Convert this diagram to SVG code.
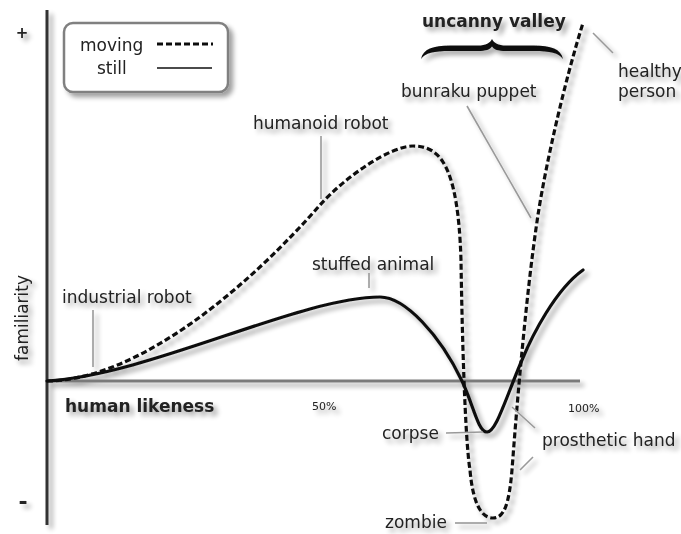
<svg xmlns="http://www.w3.org/2000/svg" width="681" height="534" viewBox="0 0 681 534">
  <defs>
    <filter id="sh" x="-5%" y="-5%" width="115%" height="115%">
      <feGaussianBlur in="SourceAlpha" stdDeviation="2.4"/>
      <feOffset dx="4" dy="4" result="b"/>
      <feComponentTransfer><feFuncA type="linear" slope="0.38"/></feComponentTransfer>
      <feMerge><feMergeNode/><feMergeNode in="SourceGraphic"/></feMerge>
    </filter>
  </defs>
  <style>
    text { font-family: "DejaVu Sans", "Liberation Sans", sans-serif; fill: #222; font-size: 17px; }
    .b { font-weight: bold; }
    .pct { font-size: 11px; }
    .lead { stroke: #999; stroke-width: 1.6; fill: none; }
    .moving { stroke: #111; stroke-width: 3.2; fill: none; stroke-dasharray: 6 3; }
    .still { stroke: #111; stroke-width: 3.2; fill: none; stroke-linecap: round; }
  </style>
  <rect width="681" height="534" fill="#fff"/>
  <g filter="url(#sh)">
    <g id="axes">
      <line x1="47" y1="381" x2="580" y2="381" stroke="#7a7a7a" stroke-width="3"/>
      <line x1="47" y1="10" x2="47" y2="525" stroke="#333" stroke-width="3"/>
      <text x="22" y="38" class="b" text-anchor="middle" style="font-size:15px">+</text>
      <text x="23" y="509" class="b" text-anchor="middle" style="font-size:22px">-</text>
      <text transform="translate(28,318) rotate(-90)" text-anchor="middle">familiarity</text>
      <text x="65" y="412" class="b">human likeness</text>
      <text x="312" y="410" class="pct">50%</text>
      <text x="568" y="412" class="pct">100%</text>
    </g>
    <g id="legend">
      <rect x="64" y="23" width="164" height="69" rx="9" fill="#fff" stroke="#808080" stroke-width="2.5"/>
      <text x="80" y="51">moving</text>
      <text x="97" y="74">still</text>
      <line x1="157" y1="44" x2="213" y2="44" class="moving" stroke-width="3"/>
      <line x1="157" y1="68" x2="212" y2="68" stroke="#111" stroke-width="1.6"/>
    </g>
    <g id="connectors">
      <path id="moving-curve" class="moving" d="M47,381 C140,380 250,285 320,205 C345,177 390,146 413,146 C440,146 458,165 461,260 C462,330 465,440 470,470 C473,505 482,518 493,518 C504,518 509,505 512,470 C515,430 525,300 538,215 C546,163 565,80 583,23"/>
      <path id="still-curve" class="still" d="M47,381 C150,375 300,297 380,297 C405,297 440,335 462,381 C473,404 478,432 487,432 C496,432 505,400 522,360 C532,336 555,290 583,270"/>
      <line class="lead" x1="93" y1="310" x2="93" y2="367"/>
      <line class="lead" x1="321" y1="136" x2="321" y2="199"/>
      <line class="lead" x1="369" y1="273" x2="369" y2="288"/>
      <line class="lead" x1="467" y1="106" x2="531" y2="218"/>
      <line class="lead" x1="593" y1="33" x2="613" y2="53"/>
      <line class="lead" x1="446" y1="433" x2="483" y2="432"/>
      <line class="lead" x1="512" y1="407" x2="535" y2="428"/>
      <line class="lead" x1="520" y1="470" x2="533" y2="457"/>
      <line class="lead" x1="455" y1="523" x2="487" y2="523"/>
    </g>
    <g id="industrial-robot"><text x="62" y="303">industrial robot</text></g>
    <g id="humanoid-robot"><text x="253" y="129">humanoid robot</text></g>
    <g id="stuffed-animal"><text x="312" y="270">stuffed animal</text></g>
    <g id="bunraku-puppet"><text x="401" y="97">bunraku puppet</text></g>
    <g id="healthy-person"><text x="618" y="77">healthy</text><text x="618" y="97">person</text></g>
    <g id="corpse"><text x="382" y="439">corpse</text></g>
    <g id="prosthetic-hand"><text x="542" y="446">prosthetic hand</text></g>
    <g id="zombie"><text x="385" y="528">zombie</text></g>
    <g id="uncanny-valley">
      <text x="422" y="27" class="b">uncanny valley</text>
      <path d="M421,59 C423,49 433,45.5 450,45.5 L478,45.5 C486,45.5 490,43 492,39 C494,43 498,45.5 506,45.5 L534,45.5 C551,45.5 561,49 563,59 C559,53 550,51 534,51 L506,51 C498,51 494,49.5 492,46.5 C490,49.5 486,51 478,51 L450,51 C434,51 425,53 421,59 Z" fill="#111"/>
    </g>
  </g>
</svg>
